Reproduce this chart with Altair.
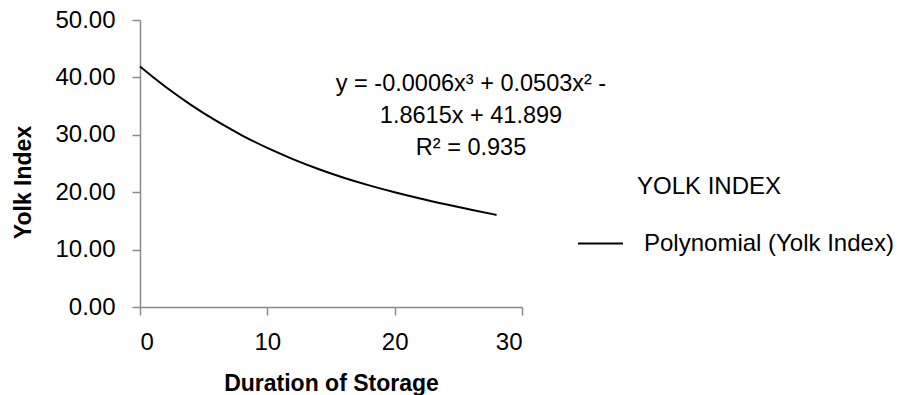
import altair as alt
import pandas as pd

days = [0, 2, 4, 6, 8, 10, 12, 14, 16, 18, 20, 22, 24, 26, 28]
yolk = [41.90, 38.37, 35.22, 32.41, 29.92, 27.71, 25.77, 24.05, 22.53, 21.19,
        19.99, 18.90, 17.90, 16.96, 16.04]
series_name = "Polynomial (Yolk Index)"
x_ticks = [0, 10, 20, 30]
y_ticks = [0, 10, 20, 30, 40, 50]
equation = ["y = -0.0006x³ + 0.0503x² -", "1.8615x + 41.899", "R² = 0.935"]
legend_title = "YOLK INDEX"

df = pd.DataFrame({"Duration": days, "Yolk": yolk, "Series": [series_name] * len(days)})
one = pd.DataFrame({"k": [0]})

FONT = "Liberation Sans"
AXIS_COLOR = "#8a8a8a"

line = alt.Chart(df).mark_line(strokeWidth=2, interpolate="monotone").encode(
    x=alt.X("Duration:Q",
            scale=alt.Scale(domain=[0, 30], nice=False, zero=False),
            axis=alt.Axis(values=x_ticks, title="Duration of Storage",
                          labelPadding=27, labelBaseline="middle",
                          titleY=76, titleBaseline="middle")),
    y=alt.Y("Yolk:Q",
            scale=alt.Scale(domain=[0, 50], nice=False),
            axis=alt.Axis(values=y_ticks, format=".2f", title="Yolk Index",
                          labelPadding=17, labelBaseline="middle",
                          titleX=-117, titleY=162, titleAngle=-90,
                          titleAlign="center", titleBaseline="middle")),
    color=alt.Color("Series:N",
                    scale=alt.Scale(domain=[series_name], range=["#000000"]),
                    legend=alt.Legend(title=None, orient="none",
                                      legendX=437, legendY=200,
                                      symbolType="stroke", symbolSize=2025,
                                      symbolStrokeWidth=2, labelOffset=20,
                                      labelFontSize=24, labelFont=FONT,
                                      labelLimit=0,
                                      labelColor="#000000", padding=0)),
)

eq = alt.Chart(one).mark_text(
    font=FONT, fontSize=23.5, lineHeight=32, align="center",
    baseline="middle", color="#000000"
).encode(x=alt.value(331), y=alt.value(64), text=alt.value(equation))

lt = alt.Chart(one).mark_text(
    font=FONT, fontSize=24, align="left", baseline="middle", color="#000000"
).encode(x=alt.value(497), y=alt.value(167), text=alt.value(legend_title))

chart = alt.layer(line, eq, lt).properties(
    width=382, height=287,
    autosize=alt.AutoSizeParams(type="none"),
    padding={"left": 132, "top": 12, "right": 375, "bottom": 88},
).configure_view(stroke=None).configure_axis(
    grid=False, domainColor=AXIS_COLOR, tickColor=AXIS_COLOR,
    domainWidth=1.5, tickWidth=1.5, tickSize=8,
    labelFont=FONT, labelFontSize=24, labelColor="#000000",
    titleFont=FONT, titleFontSize=23, titleFontWeight="bold", titleColor="#000000",
)

chart.save("out.html", embed_options={"renderer": "svg", "actions": False})
